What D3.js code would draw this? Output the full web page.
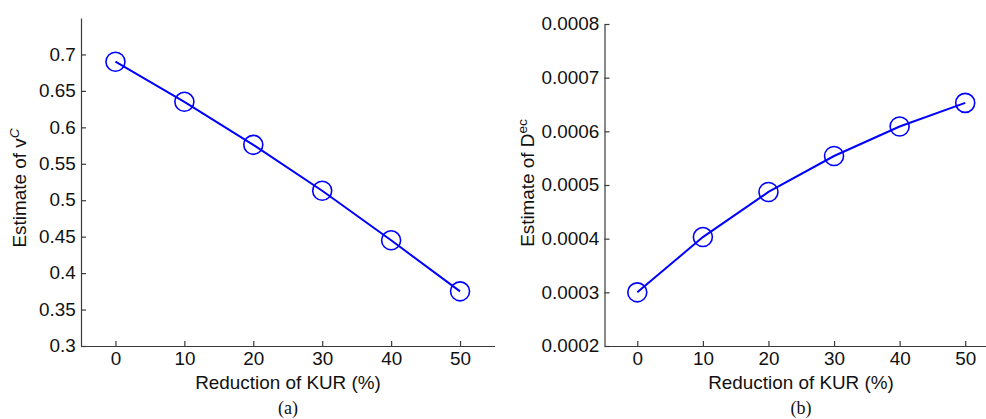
<!DOCTYPE html>
<html>
<head>
<meta charset="utf-8">
<script src="https://cdn.jsdelivr.net/npm/d3@7"></script>
<style>
  body { margin: 0; background: #fff; }
  svg { display: block; }
  .axis path, .axis line { stroke: #3a3a3a; stroke-width: 1.2; }
  .axis text { font-family: "Liberation Sans", Arial, sans-serif; font-size: 18px; fill: #111; }
  .lbl { font-family: "Liberation Sans", Arial, sans-serif; font-size: 18px; fill: #111; }
  .cap { font-family: "Liberation Serif", "Times New Roman", serif; font-size: 18px; fill: #111; }
</style>
</head>
<body>
<svg width="986" height="419"></svg>
<script>
// data
var reduction = [0, 10, 20, 30, 40, 50];
var vcEstimate = [0.69, 0.635, 0.576, 0.513, 0.445, 0.375];
var decEstimate = [0.0003, 0.000403, 0.000487, 0.000554, 0.000609, 0.000653];

var xTicks = [0, 10, 20, 30, 40, 50];
var leftYTicks = [0.3, 0.35, 0.4, 0.45, 0.5, 0.55, 0.6, 0.65, 0.7];
var rightYTicks = [0.0002, 0.0003, 0.0004, 0.0005, 0.0006, 0.0007, 0.0008];

var svg = d3.select("svg");
var sx = 1.05; // text in the source is a bit wide

function panel(opt) {
    var x = d3.scaleLinear().domain([-5, 55]).range([opt.left, opt.right]);
    var y = d3.scaleLinear().domain(opt.yDomain).range([346, opt.top]);

    var g = svg.append("g");

    g.append("g")
        .attr("class", "axis")
        .attr("transform", "translate(0,346)")
        .call(d3.axisBottom(x).tickValues(xTicks).tickSizeInner(-5).tickSizeOuter(0).tickPadding(6))
        .selectAll("text")
        .attr("transform", "scale(" + sx + ",1)");

    g.append("g")
        .attr("class", "axis")
        .attr("transform", "translate(" + opt.left + ",0)")
        .call(d3.axisLeft(y).tickValues(opt.yTicks).tickFormat(opt.fmt).tickSizeInner(-5).tickSizeOuter(0).tickPadding(5))
        .selectAll("text")
        .attr("transform", "scale(" + sx + ",1)");

    var line = d3.line()
        .x(function (d, i) { return x(reduction[i]); })
        .y(function (d) { return y(d); });

    g.append("path")
        .datum(opt.values)
        .attr("d", line)
        .attr("fill", "none")
        .attr("stroke", "#0000ff")
        .attr("stroke-width", 2);

    g.selectAll(".pt")
        .data(opt.values)
        .enter().append("circle")
        .attr("class", "pt")
        .attr("cx", function (d, i) { return x(reduction[i]); })
        .attr("cy", function (d) { return y(d); })
        .attr("r", 9.5)
        .attr("fill", "none")
        .attr("stroke", "#0000ff")
        .attr("stroke-width", 1.6);

    g.append("text")
        .attr("class", "lbl")
        .attr("text-anchor", "middle")
        .attr("transform", "translate(" + opt.xLabelX + ",389) scale(" + sx + ",1)")
        .text("Reduction of KUR (%)");

    var yl = g.append("text")
        .attr("class", "lbl")
        .attr("text-anchor", "middle")
        .attr("transform", "translate(" + opt.yLabelX + "," + opt.yLabelY + ") rotate(-90) scale(" + sx + ",1)");
    yl.append("tspan").text("Estimate of " + opt.sym);
    yl.append("tspan")
        .attr("dy", -7)
        .attr("font-size", "13px")
        .attr("font-style", opt.supStyle)
        .text(opt.sup);

    g.append("text")
        .attr("class", "cap")
        .attr("text-anchor", "middle")
        .attr("x", opt.xLabelX)
        .attr("y", 414)
        .text(opt.cap);
}

panel({
    left: 81, right: 494.5, top: 18,
    yDomain: [0.3, 0.75], yTicks: leftYTicks, fmt: d3.format("~g"),
    values: vcEstimate,
    xLabelX: 288, yLabelX: 26, yLabelY: 188,
    sym: "v", sup: "C", supStyle: "italic", cap: "(a)"
});

panel({
    left: 604.5, right: 998, top: 24,
    yDomain: [0.0002, 0.0008], yTicks: rightYTicks, fmt: d3.format(".4f"),
    values: decEstimate,
    xLabelX: 801, yLabelX: 534, yLabelY: 183,
    sym: "D", sup: "ec", supStyle: "normal", cap: "(b)"
});
</script>
</body>
</html>
